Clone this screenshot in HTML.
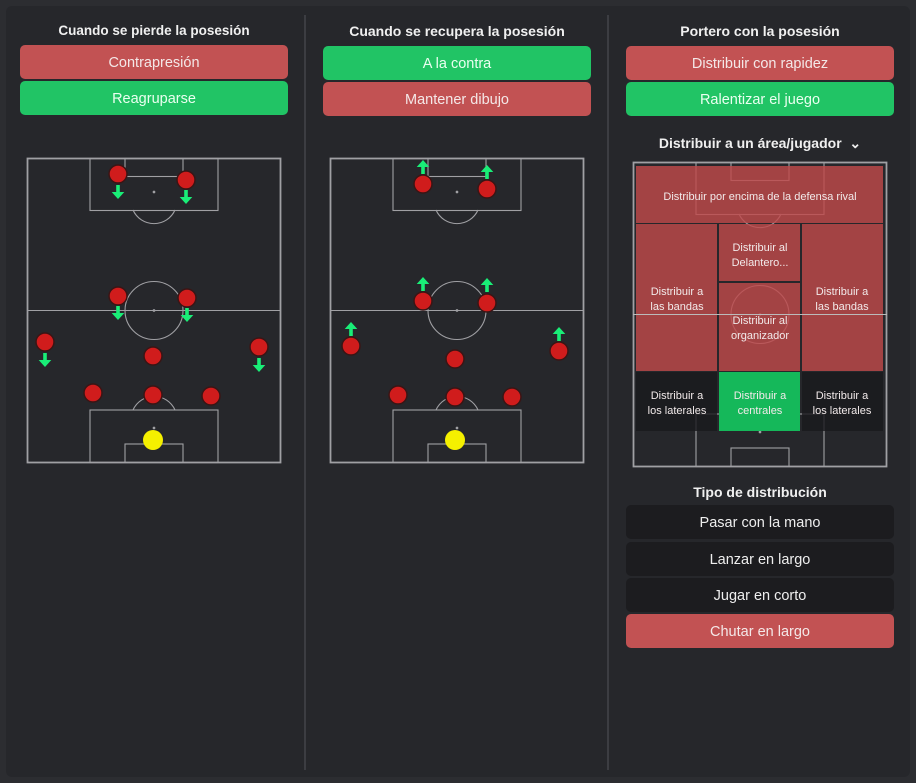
<!DOCTYPE html>
<html><head><meta charset="utf-8"><style>
body{margin:0;width:916px;height:783px;background:#2c2d31;font-family:"Liberation Sans",sans-serif;overflow:hidden;position:relative}
#bg{position:absolute;left:6px;top:6px;width:904px;height:771px;background:#26272b;border-radius:6px}
.t{position:absolute;color:#f0f0f0;font-size:13.5px;font-weight:bold;text-align:center}
.b{position:absolute;border-radius:5px;color:#f4e8e8;font-size:14.5px;text-align:center;line-height:36px;height:34px}
.r{background:#c25253}.g{background:#21c465;color:#eafff0}.d{background:#1c1c1f;color:#eee}
.v{position:absolute;top:15px;width:2px;height:755px;background:#3c3d42}
svg{position:absolute;left:0;top:0}
</style></head><body>
<div id="bg"></div>
<div class="v" style="left:304px"></div><div class="v" style="left:607px"></div>
<div class="t" style="left:20px;width:268px;top:23px">Cuando se pierde la posesión</div>
<div class="b r" style="left:20px;width:268px;top:45px">Contrapresión</div>
<div class="b g" style="left:20px;width:268px;top:81px">Reagruparse</div>
<div class="t" style="left:323px;width:268px;top:23px;font-size:14px">Cuando se recupera la posesión</div>
<div class="b g" style="left:323px;width:268px;top:46px">A la contra</div>
<div class="b r" style="left:323px;width:268px;top:82px">Mantener dibujo</div>
<div class="t" style="left:626px;width:268px;top:23px;font-size:14px">Portero con la posesión</div>
<div class="b r" style="left:626px;width:268px;top:46px">Distribuir con rapidez</div>
<div class="b g" style="left:626px;width:268px;top:82px">Ralentizar el juego</div>
<div class="t" style="left:626px;width:268px;top:135px;font-size:14px">Distribuir a un área/jugador &nbsp;⌄</div>
<div class="t" style="left:626px;width:268px;top:484px;font-size:14px">Tipo de distribución</div>
<div class="b d" style="left:626px;width:268px;top:505px">Pasar con la mano</div>
<div class="b d" style="left:626px;width:268px;top:542px">Lanzar en largo</div>
<div class="b d" style="left:626px;width:268px;top:578px">Jugar en corto</div>
<div class="b r" style="left:626px;width:268px;top:614px">Chutar en largo</div>
<svg width="916" height="783" font-family="Liberation Sans, sans-serif">
<defs>
<g id="pitch" fill="none" stroke="#a0a0a4" stroke-width="1.1">
<rect x="0.5" y="0.5" width="253" height="304" stroke-width="1.8"/>
<rect x="63" y="0.5" width="128" height="52"/>
<rect x="98" y="0.5" width="58" height="18"/>
<path d="M106 52 A23 23 0 0 0 148 52"/>
<line x1="0" y1="152.5" x2="254" y2="152.5"/>
<circle cx="127" cy="152.5" r="29"/>
<rect x="63" y="252" width="128" height="52.5"/>
<rect x="98" y="286" width="58" height="18.5"/>
<path d="M106 252 A23 23 0 0 1 148 252"/>
<circle cx="127" cy="34" r="0.8" fill="#9a9a9e"/><circle cx="127" cy="152.5" r="0.8" fill="#9a9a9e"/><circle cx="127" cy="270" r="0.8" fill="#9a9a9e"/>
</g>
<g id="p"><circle r="9" fill="#d01c1c" stroke="#3a1515" stroke-width="1.5"/></g>
<g id="dn"><path d="M-1.8 0h3.6v7h4.5l-6.3 7-6.3-7h4.5z" fill="#19ee77"/></g>
<g id="up"><path d="M-1.8 0h3.6v-7h4.5l-6.3-7-6.3 7h4.5z" fill="#19ee77"/></g>
</defs>
<use href="#pitch" x="27" y="158"/>
<use href="#pitch" x="330" y="158"/>
<use href="#pitch" x="633" y="162"/>
<g>
<use href="#p" x="118" y="174"/><use href="#p" x="186" y="180"/><use href="#p" x="118" y="296"/><use href="#p" x="187" y="298"/>
<use href="#p" x="45" y="342"/><use href="#p" x="153" y="356"/><use href="#p" x="259" y="347"/>
<use href="#p" x="93" y="393"/><use href="#p" x="153" y="395"/><use href="#p" x="211" y="396"/>
<circle cx="153" cy="440" r="10" fill="#f5f000"/>
<use href="#dn" x="118" y="185"/><use href="#dn" x="186" y="190"/><use href="#dn" x="118" y="306"/><use href="#dn" x="187" y="308"/>
<use href="#dn" x="45" y="353"/><use href="#dn" x="259" y="358"/>
</g>
<g>
<use href="#p" x="423" y="184"/><use href="#p" x="487" y="189"/><use href="#p" x="423" y="301"/><use href="#p" x="487" y="303"/>
<use href="#p" x="351" y="346"/><use href="#p" x="455" y="359"/><use href="#p" x="559" y="351"/>
<use href="#p" x="398" y="395"/><use href="#p" x="455" y="397"/><use href="#p" x="512" y="397"/>
<circle cx="455" cy="440" r="10" fill="#f5f000"/>
<use href="#up" x="423" y="174"/><use href="#up" x="487" y="179"/><use href="#up" x="423" y="291"/><use href="#up" x="487" y="292"/>
<use href="#up" x="351" y="336"/><use href="#up" x="559" y="341"/>
</g>
<g fill-opacity="0.82">
<rect x="636" y="166" width="247" height="57" fill="#c0494b"/>
<rect x="636" y="224" width="81" height="147" fill="#c0494b"/>
<rect x="719" y="224" width="81" height="57" fill="#c0494b"/>
<rect x="719" y="283" width="81" height="88" fill="#c0494b"/>
<rect x="802" y="224" width="81" height="147" fill="#c0494b"/>
<rect x="636" y="372" width="81" height="59" fill="#1a1a1d"/>
<rect x="802" y="372" width="81" height="59" fill="#1a1a1d"/>
</g>
<rect x="719" y="372" width="81" height="59" fill="#15b85a"/>
<line x1="633" y1="314.5" x2="887" y2="314.5" stroke="#bbb" stroke-width="1"/>
<g fill="#f2eaea" font-size="11" text-anchor="middle">
<text x="760" y="200">Distribuir por encima de la defensa rival</text>
<text x="677" y="295">Distribuir a</text><text x="677" y="310">las bandas</text>
<text x="842" y="295">Distribuir a</text><text x="842" y="310">las bandas</text>
<text x="760" y="251">Distribuir al</text><text x="760" y="266">Delantero...</text>
<text x="760" y="324">Distribuir al</text><text x="760" y="339">organizador</text>
<text x="677" y="399">Distribuir a</text><text x="677" y="414">los laterales</text>
<text x="760" y="399">Distribuir a</text><text x="760" y="414">centrales</text>
<text x="842" y="399">Distribuir a</text><text x="842" y="414">los laterales</text>
</g>
</svg>
</body></html>
